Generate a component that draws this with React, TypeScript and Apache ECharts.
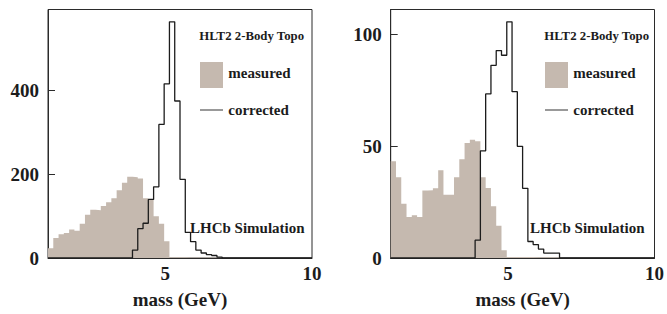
import React, { useEffect, useRef } from "react";
import * as echarts from "echarts";

// Histogram binning: 50 bins from 1 to 10 GeV
const X_MIN = 1;
const X_MAX = 10;
const N_BINS = 50;

// Left panel (signal sample)
const leftMeasured = [
  23, 48, 57, 60, 68, 65, 82, 103, 115, 114,
  124, 133, 143, 162, 180, 194, 193, 190, 143, 140,
  100, 82, 40, 2, 2, 2, 1, 1, 1, 1,
  1, 1, 0, 0, 0, 0, 0, 0, 0, 0,
  0, 0, 0, 0, 0, 0, 0, 0, 0, 0,
];
const leftCorrected = [
  0, 0, 0, 0, 0, 0, 0, 0, 0, 0,
  0, 0, 0, 0, 0, 0, 19, 70, 83, 140,
  170, 319, 416, 564, 375, 188, 61, 39, 19, 12,
  8, 6, 2, 0, 0, 0, 0, 0, 0, 0,
  0, 0, 0, 0, 0, 0, 0, 0, 0, 0,
];

// Right panel
const rightMeasured = [
  43.3, 36.2, 24.3, 18.4, 19.2, 18.4, 30.2, 30.3, 31.2, 39.3,
  28.3, 28.3, 36.2, 44.2, 51.5, 53, 52.3, 36.2, 31.4, 23.2,
  14.4, 3.5, 0.4, 0.4, 0.4, 0.4, 0.4, 0.3, 0.3, 0.3,
  0.3, 0.2, 0, 0, 0, 0, 0, 0, 0, 0,
  0, 0, 0, 0, 0, 0, 0, 0, 0, 0,
];
const rightCorrected = [
  0, 0, 0, 0, 0, 0, 0, 0, 0, 0,
  0, 0, 0, 0, 0, 0, 8, 48, 73.5, 86.3,
  92.9, 90.8, 105.8, 74.5, 50, 31.2, 7.4, 6, 4, 2.2,
  2.2, 2.2, 0, 0, 0, 0, 0, 0, 0, 0,
  0, 0, 0, 0, 0, 0, 0, 0, 0, 0,
];

const xTickLabels = [5, 10];
const leftYMax = 593.5;
const leftYInterval = 200;
const rightYMax = 111.3;
const rightYInterval = 50;

const legendTitle = "HLT2 2-Body Topo";
const measuredName = "measured";
const correctedName = "corrected";
const simLabel = "LHCb Simulation";
const xName = "mass (GeV)";

const FONT_FAMILY = "'Liberation Serif', 'DejaVu Serif', serif";
const FILL = "#c5b9af";
const INK = "#1c1c1c";
const FRAME = "#2b2b2b";

function stepData(values: number[]) {
  const bw = (X_MAX - X_MIN) / N_BINS;
  const pts: number[][] = values.map((v, i) => [X_MIN + i * bw, v]);
  pts.push([X_MAX, values[values.length - 1]]);
  return pts;
}

export default function App() {
  const ref = useRef<HTMLDivElement>(null);

  useEffect(() => {
    document.body.style.margin = "0";
    if (!ref.current) return;
    const chart = echarts.init(ref.current, null, { renderer: "svg" });

    const grids = [
      { left: 48, top: 9.5, width: 264, height: 254, show: true, borderColor: FRAME, borderWidth: 1, backgroundColor: "transparent" },
      { left: 390.7, top: 9.5, width: 265, height: 254.5, show: true, borderColor: FRAME, borderWidth: 1, backgroundColor: "transparent" },
    ];

    const xAxisBase = (gi: number) => ({
      type: "value",
      gridIndex: gi,
      min: X_MIN,
      max: X_MAX,
      name: xName,
      nameLocation: "middle",
      nameGap: 32,
      nameTextStyle: { fontFamily: FONT_FAMILY, fontWeight: "bold", fontSize: 19, color: INK },
      axisLine: { show: true, lineStyle: { color: FRAME, width: 1 } },
      axisTick: { show: false },
      splitLine: { show: false },
      axisLabel: {
        customValues: xTickLabels,
        fontFamily: FONT_FAMILY,
        fontWeight: "bold",
        fontSize: 19,
        color: INK,
        margin: 6,
      },
    });

    const yAxisBase = (gi: number, max: number, interval: number) => ({
      type: "value",
      gridIndex: gi,
      min: 0,
      max,
      interval,
      axisLine: { show: true, lineStyle: { color: FRAME, width: 1 } },
      axisTick: { show: true, inside: true, length: 7, lineStyle: { color: FRAME } },
      splitLine: { show: false },
      axisLabel: {
        showMaxLabel: false,
        formatter: (v: number) => (v % interval === 0 ? String(v) : ""),
        fontFamily: FONT_FAMILY,
        fontWeight: "bold",
        fontSize: 19,
        color: INK,
        margin: 9,
      },
    });

    const measuredSeries = (gi: number, data: number[]) => ({
      name: measuredName,
      type: "line",
      xAxisIndex: gi,
      yAxisIndex: gi,
      step: "end",
      symbol: "none",
      data: stepData(data),
      lineStyle: { width: 0, color: FILL },
      areaStyle: { color: FILL, opacity: 1 },
      z: 1,
    });

    const correctedSeries = (gi: number, data: number[]) => ({
      name: correctedName,
      type: "line",
      xAxisIndex: gi,
      yAxisIndex: gi,
      step: "end",
      symbol: "none",
      data: stepData(data),
      lineStyle: { width: 1.3, color: INK },
      z: 3,
    });

    const textEl = (x: number, y: number, text: string, size: number) => ({
      type: "text",
      x,
      y,
      z: 10,
      style: {
        text,
        fill: INK,
        font: `bold ${size}px ${FONT_FAMILY}`,
        textAlign: "left",
        textVerticalAlign: "middle",
      },
    });

    const legendEls = (ox: number, lx: number) => [
      textEl(ox - 0.7, 35.7, legendTitle, 12.8),
      { type: "rect", z: 10, shape: { x: ox, y: 62, width: 23, height: 26 }, style: { fill: FILL } },
      textEl(ox + 28.3, 73.3, measuredName, 15),
      { type: "line", z: 10, shape: { x1: ox, y1: 110, x2: ox + 23, y2: 110 }, style: { stroke: "#555", lineWidth: 1.2 } },
      textEl(ox + 28.3, 110, correctedName, 15),
      textEl(lx, 228.3, simLabel, 15),
    ];

    chart.setOption({
      animation: false,
      grid: grids,
      xAxis: [xAxisBase(0), xAxisBase(1)],
      yAxis: [yAxisBase(0, leftYMax, leftYInterval), yAxisBase(1, rightYMax, rightYInterval)],
      series: [
        measuredSeries(0, leftMeasured),
        correctedSeries(0, leftCorrected),
        measuredSeries(1, rightMeasured),
        correctedSeries(1, rightCorrected),
      ],
      graphic: [...legendEls(200, 190), ...legendEls(545, 530)],
    });

    return () => chart.dispose();
  }, []);

  return <div ref={ref} style={{ width: 667, height: 314 }} />;
}
